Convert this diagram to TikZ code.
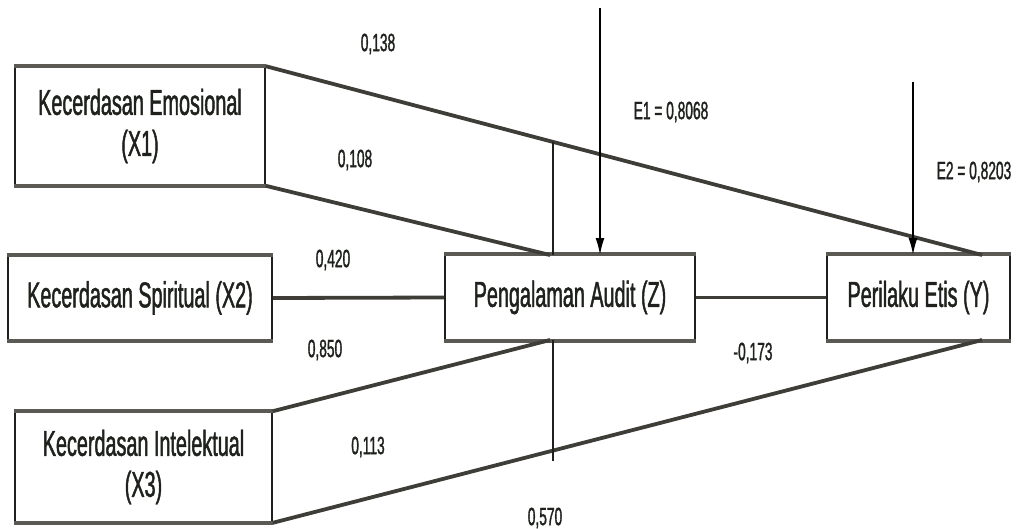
\documentclass[tikz,border=0pt]{standalone}
\usepackage{fontspec}
\setmainfont[FakeStretch=0.55,FakeBold=1.2]{Liberation Sans}
\usetikzlibrary{arrows.meta}
\definecolor{edgegray}{HTML}{3E3D38}
\definecolor{rimgray}{HTML}{5A5953}
\definecolor{inkdark}{HTML}{1E211C}
\tikzset{
  varbox/.style={draw=inkdark, line width=1.6pt, fill=white, inner sep=0pt,
    align=center, text=inkdark, font=\fontsize{36}{41}\selectfont},
  rim/.style={draw=rimgray, line width=4pt},
  path/.style={draw=edgegray, line width=3.8pt},
  link/.style={draw=inkdark, line width=1.8pt},
  errarrow/.style={draw=black, line width=1.8pt, -{Latex[length=17pt,width=9pt]}},
  coef/.style={text=inkdark, font=\fontsize{25}{28}\selectfont, inner sep=0pt}
}
\begin{document}
\begin{tikzpicture}[x=1pt,y=-1pt]
\useasboundingbox (0,0) rectangle (1016,529);

% variable boxes
\node[varbox, minimum width=250pt, minimum height=118pt] (x1) at (140,126) {Kecerdasan Emosional\\(X1)};
\node[varbox, minimum width=264pt, minimum height=84pt] (x2) at (140,298) {Kecerdasan Spiritual (X2)};
\node[varbox, minimum width=257pt, minimum height=110pt] (x3) at (143.5,467) {Kecerdasan Intelektual\\(X3)};
\node[varbox, minimum width=250pt, minimum height=85pt] (z) at (570,297.5) {Pengalaman Audit (Z)};
\node[varbox, minimum width=183pt, minimum height=85pt] (y) at (918.5,297.5) {Perilaku Etis (Y)};

% thick grey top and bottom rims of the boxes
\foreach \b in {x1,x2,x3,z,y}{
  \draw[rim] (\b.north west) -- (\b.north east);
  \draw[rim] (\b.south west) -- (\b.south east);
}

% attachment points on the box edges
\coordinate (zt) at (550,255);
\coordinate (zb) at (550,340);
\coordinate (ztm) at (553,255);
\coordinate (zbm) at (553,340);
\coordinate (ytr) at (982,255);
\coordinate (ybr) at (982,340);
\coordinate (m1) at (553,142.5);
\coordinate (m2) at (553,461);
\coordinate (e1s) at (600,8);
\coordinate (e1t) at (600,255);
\coordinate (e2s) at (913,82);
\coordinate (e2t) at (913,255);

% structural paths
\draw[path] (x1.north east) -- (ytr);
\draw[path] (x1.south east) -- (zt);
\draw[path] (x2.east) -- (z.west);
\draw[path] (x3.north east) -- (zb);
\draw[path] (x3.south east) -- (ybr);
\draw[path] (z.east) -- (y.west);

% moderation links
\draw[link] (m1) -- (ztm);
\draw[link] (zbm) -- (m2);

% error terms
\draw[errarrow] (e1s) -- (e1t);
\draw[errarrow] (e2s) -- (e2t);

% coefficients
\node[coef] (c1) at (378,44) {0,138};
\node[coef] (c2) at (355,160) {0,108};
\node[coef] (c3) at (333,260) {0,420};
\node[coef] (c4) at (325,350) {0,850};
\node[coef] (c5) at (368,447) {0,113};
\node[coef] (c6) at (545,518) {0,570};
\node[coef] (c7) at (753,353) {-0,173};
\node[coef] (c8) at (671,112) {E1 = 0,8068};
\node[coef] (c9) at (974,172) {E2 = 0,8203};
\end{tikzpicture}
\end{document}
